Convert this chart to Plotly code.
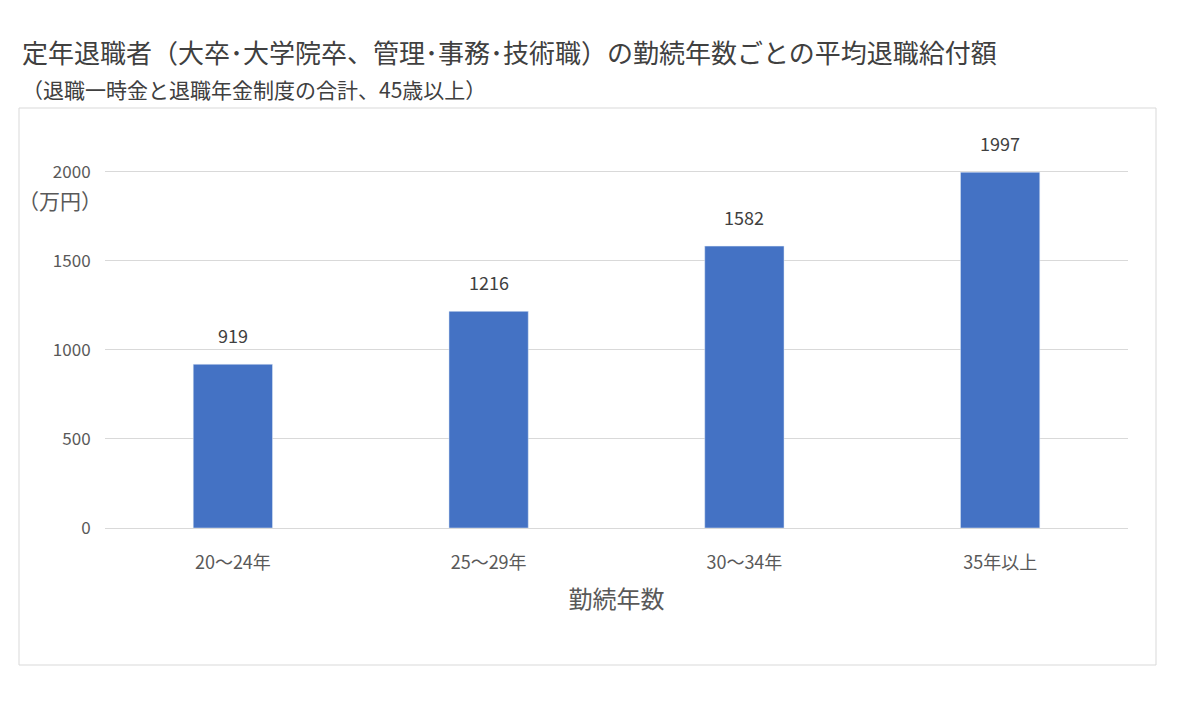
import plotly.graph_objects as go

categories = ["20～24年", "25～29年", "30～34年", "35年以上"]
values = [919, 1216, 1582, 1997]
ytick_vals = [0, 500, 1000, 1500, 2000]

W, H = 1200, 701
OX, OY = 8, 7
L, R, T, B = 105 - OX, 1128 - OX, 135 - OY, 527 - OY
def px(x): return (x - OX - L) / (R - L)
def py(y): return (B - (y - OY)) / (B - T)

font = "Noto Sans CJK JP, Noto Sans, sans-serif"
fig = go.Figure(go.Bar(x=categories, y=values, marker_color="#4472C4"))
fig.update_layout(
    width=W, height=H, margin=dict(l=L, r=W - R, t=T, b=H - B),
    paper_bgcolor="white", plot_bgcolor="white", bargap=0.69,
    font=dict(family=font, color="#595959"), showlegend=False,
    xaxis=dict(showline=True, linecolor="#d9d9d9", tickfont=dict(size=18),
               ticks="outside", ticklen=18, tickcolor="rgba(0,0,0,0)",
               title=dict(text="勤続年数", font=dict(size=24, color="#595959"), standoff=18)),
    yaxis=dict(range=[0, 2200], tickvals=ytick_vals, tickfont=dict(size=17),
               gridcolor="#d9d9d9", zeroline=False, ticks="outside", ticklen=10,
               tickcolor="rgba(0,0,0,0)"),
    shapes=[dict(type="rect", xref="paper", yref="paper", x0=px(19), x1=px(1156),
                 y0=py(664), y1=py(107), line=dict(color="#d9d9d9", width=1))],
    annotations=[
        dict(text="定年退職者（大卒･大学院卒、管理･事務･技術職）の勤続年数ごとの平均退職給付額",
             xref="paper", yref="paper", x=px(20), y=py(50), xanchor="left", yanchor="middle",
             showarrow=False, font=dict(size=26, color="#404040")),
        dict(text="（退職一時金と退職年金制度の合計、45歳以上）",
             xref="paper", yref="paper", x=px(20), y=py(88), xanchor="left", yanchor="middle",
             showarrow=False, font=dict(size=21, color="#404040")),
        dict(text="（万円）", xref="paper", yref="paper", x=px(16), y=py(199),
             xanchor="left", yanchor="middle", showarrow=False, font=dict(size=21, color="#595959")),
    ] + [dict(x=c, y=v, text=str(v), showarrow=False, yanchor="bottom", yshift=14,
              font=dict(size=18, color="#404040")) for c, v in zip(categories, values)],
)
fig.write_html("out.html")
